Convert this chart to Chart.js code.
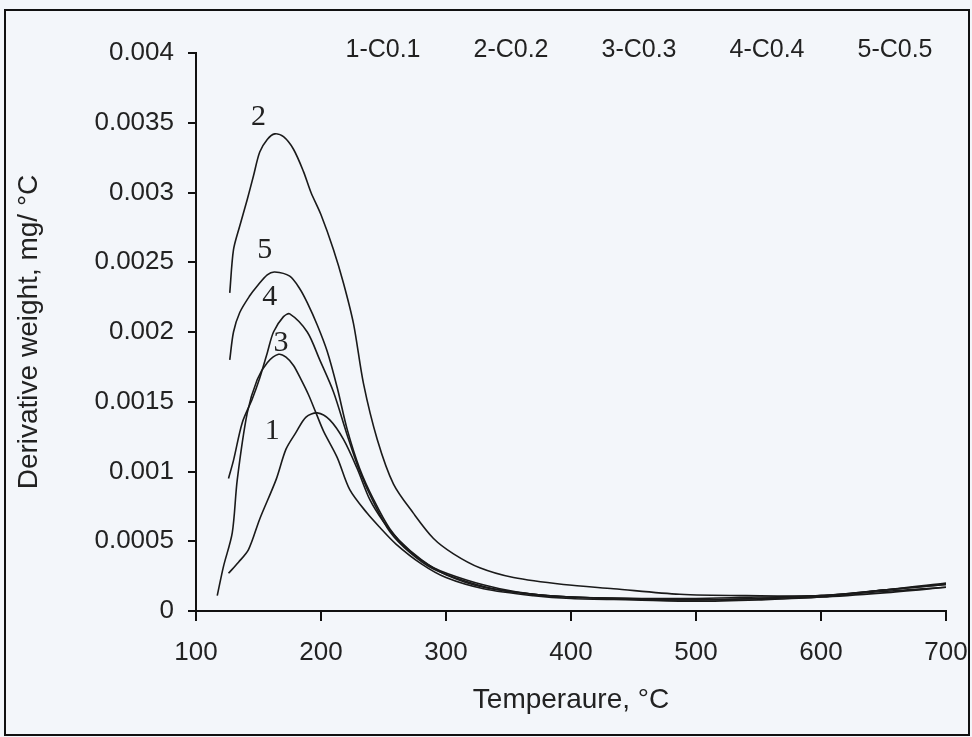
<!DOCTYPE html>
<html lang="en">
<head>
    <meta charset="UTF-8">
    <title>Derivative weight vs temperature</title>
    <script src="https://cdn.jsdelivr.net/npm/chart.js"></script>
    <style>
        body {
            margin: 0;
            background: #f3f6fa;
        }
        #wrap {
            width: 972px;
            height: 737px;
        }
    </style>
</head>
<body>
    <div id="wrap"><canvas id="myChart" width="972" height="737"></canvas></div>

    <script>
        // series labels (legend text) and curve numbers
        const seriesLabels = ['1-C0.1', '2-C0.2', '3-C0.3', '4-C0.4', '5-C0.5'];
        const curveNumbers = ['1', '2', '3', '4', '5'];

        // where the curve numbers sit (temperature, value)
        const numberT = [161, 150, 168, 159, 155];
        const numberV = [0.00129, 0.00354, 0.00192, 0.00225, 0.00259];

        // tick labels
        const xTickLabels = ['100', '200', '300', '400', '500', '600', '700'];
        const yTickLabels = ['0', '0.0005', '0.001', '0.0015', '0.002', '0.0025', '0.003', '0.0035', '0.004'];

        // curve 1
        const t1 = [126, 134, 142, 151, 164, 172, 180, 188, 197, 207, 218, 229, 239, 250, 262, 280, 300, 330, 370, 400, 450, 500, 550, 600, 650, 700];
        const v1 = [0.00027, 0.00035, 0.00044, 0.00066, 0.00094, 0.00116, 0.00128, 0.00139, 0.00142, 0.00137, 0.00123, 0.00102, 0.00080, 0.00064, 0.00051, 0.00037, 0.00026, 0.00017, 0.00012, 0.00010, 0.000085, 0.00008, 0.00009, 0.00011, 0.00014, 0.00017];

        // curve 2
        const t2 = [127, 130, 135, 141, 146, 151, 157, 163, 170, 178, 186, 192, 200, 210, 218, 226, 234, 245, 258, 274, 290, 306, 327, 354, 394, 434, 487, 540, 600, 650, 700];
        const v2 = [0.00228, 0.00259, 0.00276, 0.00295, 0.00312, 0.00329, 0.00338, 0.00342, 0.00340, 0.00331, 0.00315, 0.00300, 0.00284, 0.00259, 0.00235, 0.00206, 0.00163, 0.00123, 0.00091, 0.00070, 0.00052, 0.00041, 0.00031, 0.00024, 0.00019, 0.00016, 0.00012, 0.00011, 0.00011, 0.00015, 0.00019];

        // curve 3
        const t3 = [117, 122, 129, 133, 141, 149, 157, 166, 172, 178, 184, 190, 196, 202, 213, 223, 237, 247, 260, 280, 300, 330, 370, 400, 450, 500, 550, 600, 650, 700];
        const v3 = [0.00011, 0.00032, 0.00056, 0.00094, 0.00142, 0.00166, 0.00178, 0.00184, 0.00182, 0.00176, 0.00166, 0.00155, 0.00142, 0.00129, 0.00110, 0.00087, 0.00070, 0.00060, 0.00048, 0.00034, 0.00024, 0.00016, 0.00011, 0.00009, 0.00008, 0.00007, 0.00008, 0.00010, 0.00015, 0.00019];

        // curve 4
        const t4 = [126, 130, 137, 145, 151, 157, 162, 170, 175, 189, 199, 210, 221, 231, 242, 255, 271, 290, 317, 343, 370, 400, 450, 500, 550, 600, 650, 700];
        const v4 = [0.00095, 0.00108, 0.00135, 0.00152, 0.00167, 0.00185, 0.00200, 0.00211, 0.00213, 0.00200, 0.00180, 0.00157, 0.00126, 0.00100, 0.00078, 0.00057, 0.00042, 0.00030, 0.00021, 0.00015, 0.00012, 0.00010, 0.00009, 0.00008, 0.00009, 0.00010, 0.00013, 0.00017];

        // curve 5
        const t5 = [127, 130, 135, 143, 149, 157, 163, 175, 183, 189, 197, 205, 213, 221, 231, 242, 255, 271, 290, 317, 343, 370, 400, 450, 500, 550, 600, 650, 700];
        const v5 = [0.00180, 0.00200, 0.00214, 0.00226, 0.00233, 0.00241, 0.00243, 0.00240, 0.00231, 0.00221, 0.00205, 0.00186, 0.00160, 0.00130, 0.00102, 0.00080, 0.00059, 0.00043, 0.00031, 0.00022, 0.00016, 0.00012, 0.00010, 0.00009, 0.00009, 0.00010, 0.00011, 0.00015, 0.00020];

        const temps = [t1, t2, t3, t4, t5];
        const values = [v1, v2, v3, v4, v5];

        const fontSans = 'Liberation Sans';

        // background, outer frame, legend text and curve numbers
        const decorations = {
            id: 'decorations',
            beforeDraw(chart) {
                const ctx = chart.ctx;
                ctx.save();
                ctx.fillStyle = '#f3f6fa';
                ctx.fillRect(0, 0, chart.width, chart.height);
                ctx.restore();
            },
            afterDraw(chart) {
                const ctx = chart.ctx;
                const area = chart.chartArea;
                const xs = chart.scales.x;
                const ys = chart.scales.y;
                ctx.save();
                ctx.strokeStyle = '#111';
                ctx.lineWidth = 2;
                ctx.strokeRect(5, 10, chart.width - 8, chart.height - 12);

                // legend row
                ctx.fillStyle = '#222';
                ctx.font = '25px "' + fontSans + '"';
                ctx.textAlign = 'center';
                ctx.textBaseline = 'middle';
                chart.data.datasets.forEach((ds, i) => {
                    ctx.fillText(ds.label, area.left + 187 + i * 128, area.top - 3);
                });

                // curve numbers
                ctx.font = '30px "Liberation Serif"';
                curveNumbers.forEach((n, i) => {
                    ctx.fillText(n, xs.getPixelForValue(numberT[i]), ys.getPixelForValue(numberV[i]));
                });
                ctx.restore();
            }
        };

        function renderChart() {
            const ctx = document.getElementById('myChart').getContext('2d');
            new Chart(ctx, {
                type: 'line',
                data: {
                    datasets: seriesLabels.map((label, i) => ({
                        label: label,
                        data: temps[i].map((t, j) => ({ x: t, y: values[i][j] })),
                        borderColor: '#1a1a1a',
                        borderWidth: 1.6,
                        pointRadius: 0,
                        tension: 0.3,
                        fill: false
                    }))
                },
                options: {
                    responsive: false,
                    animation: false,
                    layout: {
                        padding: { top: 53, right: 26, bottom: 0, left: 0 }
                    },
                    plugins: {
                        legend: { display: false },
                        tooltip: { enabled: false }
                    },
                    scales: {
                        x: {
                            type: 'linear',
                            min: 100,
                            max: 700,
                            afterFit: (scale) => {
                                scale.height = 126;
                                scale.paddingRight = 0;
                                scale.paddingLeft = 0;
                            },
                            ticks: {
                                stepSize: 100,
                                color: '#222',
                                padding: 16,
                                maxRotation: 0,
                                font: { family: fontSans, size: 26 },
                                callback: (value, index) => xTickLabels[index]
                            },
                            grid: {
                                display: true,
                                drawOnChartArea: false,
                                drawTicks: true,
                                tickLength: 10,
                                color: '#111',
                                lineWidth: 2
                            },
                            border: { display: true, color: '#111', width: 2 },
                            title: {
                                display: true,
                                text: 'Temperaure, °C',
                                color: '#222',
                                font: { family: fontSans, size: 28 },
                                padding: { top: 10, bottom: 20 }
                            }
                        },
                        y: {
                            min: 0,
                            max: 0.004,
                            afterFit: (scale) => { scale.width = 196; },
                            ticks: {
                                stepSize: 0.0005,
                                color: '#222',
                                padding: 14,
                                font: { family: fontSans, size: 26 },
                                callback: (value, index) => yTickLabels[index]
                            },
                            grid: {
                                display: true,
                                drawOnChartArea: false,
                                drawTicks: true,
                                tickLength: 8,
                                color: '#111',
                                lineWidth: 2
                            },
                            border: { display: true, color: '#111', width: 2 },
                            title: {
                                display: true,
                                text: 'Derivative weight, mg/ °C',
                                color: '#222',
                                font: { family: fontSans, size: 28 },
                                padding: { top: 12, bottom: 0 }
                            }
                        }
                    }
                },
                plugins: [decorations]
            });
        }

        renderChart();
    </script>
</body>
</html>
